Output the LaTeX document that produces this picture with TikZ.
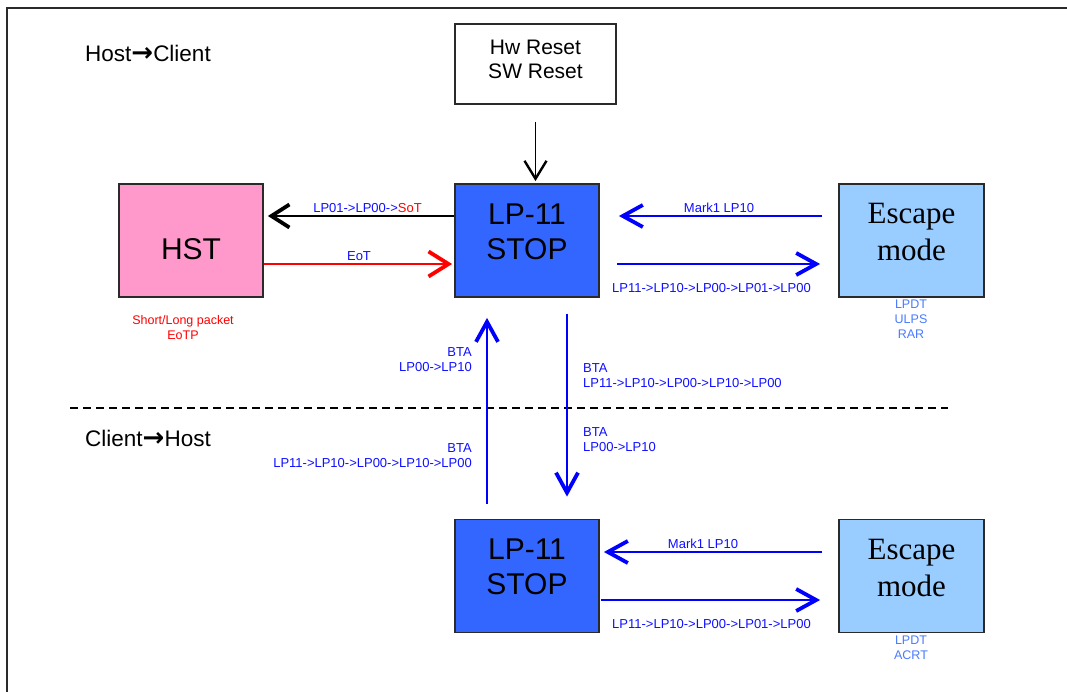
\documentclass[tikz,border=0pt]{standalone}
\usepackage{fontspec}
\setmainfont{Liberation Sans}
\newfontfamily\serifl{Liberation Serif}
\newfontfamily\dejavu{DejaVu Sans}
\usetikzlibrary{arrows.meta,calc}
\definecolor{stopblue}{HTML}{3366FF}
\definecolor{hstpink}{HTML}{FF99CC}
\definecolor{escblue}{HTML}{99CCFF}
\definecolor{lblblue}{HTML}{1010FF}
\definecolor{modeblue}{HTML}{4A7BFF}
\definecolor{framegray}{HTML}{2A2A2A}
\begin{document}
\begin{tikzpicture}[x=1pt,y=-1pt,
  frame/.style={draw=framegray,line width=2pt},
  box/.style={draw=framegray,line width=1.8pt,inner sep=0pt,minimum width=144pt,minimum height=113pt},
  bigtxt/.style={font=\fontsize{30}{35}\selectfont,align=center,inner sep=0pt},
  esctxt/.style={font=\serifl\fontsize{31}{37}\selectfont,align=center,inner sep=0pt},
  lbl/.style={font=\fontsize{13}{15}\selectfont,text=lblblue,inner sep=0pt},
  note/.style={font=\fontsize{12.5}{15}\selectfont,inner sep=0pt,align=center},
  title/.style={font=\fontsize{22.5}{26}\selectfont,inner sep=0pt,anchor=west},
  barrow/.style={draw=blue,line width=2.6pt,-{Straight Barb[length=20pt,width=22pt,line width=3.8pt]}},
  karrow/.style={draw=black,line width=2.6pt,-{Straight Barb[length=18pt,width=23pt,line width=3.8pt]}},
  rarrow/.style={draw=red,line width=2.6pt,-{Straight Barb[length=20pt,width=25pt,line width=3.8pt]}},
  thinarrow/.style={draw=black,line width=1.6pt,-{Straight Barb[length=18pt,width=22pt,line width=2.4pt]}},
  dashline/.style={draw=black,line width=2pt,dash pattern=on 8pt off 5pt}
]
\useasboundingbox (0,0) rectangle (1067,692);
\fill[white] (0,0) rectangle (1067,692);
% frame
\coordinate (fbl) at (7,710);
\coordinate (ftl) at (7,8);
\coordinate (ftr) at (1080,8);
\draw[frame] (fbl) -- (ftl) -- (ftr);

% titles
\node[title] (hc) at (85,53) {Host{\dejavu\bfseries\fontsize{26}{26}\selectfont →}Client};
\node[title] (ch) at (85,438) {Client{\dejavu\bfseries\fontsize{26}{26}\selectfont →}Host};

% boxes
\node[box,fill=white,minimum width=161pt,minimum height=80pt] (reset) at (535.5,64) {};
\node[font=\fontsize{21}{24}\selectfont,align=center,inner sep=0pt] (resett) at ([yshift=5pt]reset.center) {Hw Reset\\SW Reset};

\node[box,fill=hstpink] (hst) at (191,240.5) {};
\node[bigtxt] (hstt) at ([yshift=-9pt]hst.center) {HST};

\node[box,fill=stopblue] (stop1) at (527,240.5) {};
\node[bigtxt] (stop1t) at ([yshift=9pt]stop1.center) {LP-11\\STOP};

\node[box,fill=escblue,minimum width=145pt] (esc1) at (911.5,240.5) {};
\node[esctxt] (esc1t) at ([yshift=8pt]esc1.center) {Escape\\mode};

\node[box,fill=stopblue] (stop2) at (527,576) {};
\node[bigtxt] (stop2t) at ([yshift=9pt]stop2.center) {LP-11\\STOP};

\node[box,fill=escblue,minimum width=145pt] (esc2) at (911.5,576) {};
\node[esctxt] (esc2t) at ([yshift=8pt]esc2.center) {Escape\\mode};

% notes under boxes
\node[note,text=red] (hstnote) at (183,328) {Short/Long packet\\EoTP};
\node[note,text=modeblue] (modesa) at (911,319) {LPDT\\ULPS\\RAR};
\node[note,text=modeblue] (modesb) at (911,647.5) {LPDT\\ACRT};

% dashed separator
\coordinate (dl) at (70,408);
\coordinate (dr) at (948,408);
\draw[dashline] (dl) -- (dr);

% connectors
\draw[thinarrow] ([yshift=-17pt]reset.south) -- ([yshift=2pt]reset.south |- stop1.north);

\draw[karrow] ([yshift=24.5pt]stop1.west) -- ([xshift=4pt,yshift=24.5pt]hst.east);
\draw[rarrow] ([yshift=-23.5pt]hst.east) -- ([xshift=-2pt,yshift=-23.5pt]stop1.west);

\draw[barrow] ([xshift=-16pt,yshift=24.5pt]esc1.west) -- ([xshift=19pt,yshift=24.5pt]stop1.east);
\draw[barrow] ([xshift=17pt,yshift=-23.5pt]stop1.east) -- ([xshift=-18pt,yshift=-23.5pt]esc1.west);

\draw[barrow] ([xshift=-16pt,yshift=24pt]esc2.west) -- ([xshift=4pt,yshift=24pt]stop2.east);
\draw[barrow] ([xshift=1pt,yshift=-24pt]stop2.east) -- ([xshift=-18pt,yshift=-24pt]esc2.west);

\draw[barrow] ([xshift=-40pt,yshift=15pt]stop2.north) -- ([xshift=-40pt,yshift=-20pt]stop1.south);
\draw[barrow] ([xshift=40pt,yshift=-16pt]stop1.south) -- ([xshift=40pt,yshift=22pt]stop2.north);

% connector labels
\node[lbl] (lp01) at (367.5,208) {LP01->LP00->{\color{red}SoT}};
\node[lbl] (eot) at (359,256) {EoT};
\node[lbl] (mark1a) at (719,208) {Mark1 LP10};
\node[lbl] (seqa) at (711.5,288) {LP11->LP10->LP00->LP01->LP00};
\node[lbl] (mark1b) at (703,544) {Mark1 LP10};
\node[lbl] (seqb) at (711.5,624) {LP11->LP10->LP00->LP01->LP00};

\node[lbl,anchor=east,align=right] (bta1) at (472,360) {BTA\\LP00->LP10};
\node[lbl,anchor=east,align=right] (bta2) at (472,455.5) {BTA\\LP11->LP10->LP00->LP10->LP00};
\node[lbl,anchor=west,align=left] (bta3) at (583,375.5) {BTA\\LP11->LP10->LP00->LP10->LP00};
\node[lbl,anchor=west,align=left] (bta4) at (583,439.5) {BTA\\LP00->LP10};
\end{tikzpicture}
\end{document}
